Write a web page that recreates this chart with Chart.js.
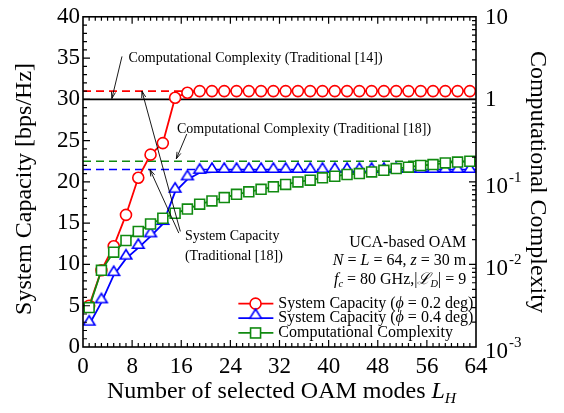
<!DOCTYPE html>
<html>
<head>
<meta charset="utf-8">
<script src="https://cdn.jsdelivr.net/npm/chart.js@4.4.0/dist/chart.umd.min.js"></script>
<style>
body { margin: 0; background: #fff; }
canvas { display: block; }
</style>
</head>
<body>
<canvas id="chart" width="564" height="413"></canvas>
<script>
// number of selected OAM modes L_H
const modes = [1, 3, 5, 7, 9, 11, 13, 15, 17, 19, 21, 23, 25, 27, 29, 31,
               33, 35, 37, 39, 41, 43, 45, 47, 49, 51, 53, 55, 57, 59, 61, 63];
// system capacity [bps/Hz], phi = 0.2 deg
const capacity02 = [5.0, 9.3, 12.2, 16.0, 20.5, 23.3, 24.7, 30.2, 30.8, 31.0, 31.0, 31.0, 31.0, 31.0, 31.0, 31.0,
                    31.0, 31.0, 31.0, 31.0, 31.0, 31.0, 31.0, 31.0, 31.0, 31.0, 31.0, 31.0, 31.0, 31.0, 31.0, 31.0];
// system capacity [bps/Hz], phi = 0.4 deg
const capacity04 = [2.7, 5.4, 8.7, 10.7, 12.0, 13.4, 14.9, 18.8, 20.3, 21.1, 21.2, 21.2, 21.2, 21.2, 21.2, 21.2,
                    21.2, 21.2, 21.2, 21.2, 21.2, 21.2, 21.2, 21.2, 21.2, 21.2, 21.2, 21.2, 21.2, 21.2, 21.2, 21.2];
// computational complexity (right, log axis)
const complexity = [0.0030, 0.0085, 0.0141, 0.0195, 0.0251, 0.0309, 0.0363, 0.0417, 0.0468, 0.0537, 0.0589, 0.0646, 0.0708, 0.0759, 0.0813, 0.0871,
                    0.0933, 0.100, 0.105, 0.112, 0.117, 0.123, 0.126, 0.132, 0.138, 0.145, 0.151, 0.158, 0.162, 0.170, 0.174, 0.178];

// traditional schemes (horizontal reference lines)
const refModes = [0, 64];
const trad14Complexity = [1, 1];
const trad18Complexity = [0.178, 0.178];
const trad18Capacity02 = [31.0, 31.0];
const trad18Capacity04 = [21.5, 21.5];

// tick labels of the right axis (powers of ten)
const rightExponents = [-3, -2, -1, 0, 1];

const FONT = "'Liberation Serif', 'Times New Roman', serif";
const RED = '#ff0000', BLUE = '#0000ff', GREEN = '#108a10';

// triangle marker sitting on its point (base on the line)
function makeTriangle() {
    let c = document.createElement('canvas');
    c.width = 24;
    c.height = 24;
    let t = c.getContext('2d');
    t.strokeStyle = BLUE;
    t.fillStyle = '#fff';
    t.lineWidth = 1.6;
    t.beginPath();
    t.moveTo(12, 3);
    t.lineTo(17.8, 12.3);
    t.lineTo(6.2, 12.3);
    t.closePath();
    t.fill();
    t.stroke();
    return c;
}
const triangle = makeTriangle();

function points(xs, ys) {
    return xs.map((x, i) => ({x: x, y: ys[i]}));
}

function fontOf(size, italic) {
    return (italic ? 'italic ' : '') + size + 'px ' + FONT;
}

// draw text made of several runs (italic / subscript parts)
function drawRuns(ctx, runs, x, y, size, align) {
    let w = 0;
    runs.forEach(r => {
        ctx.font = fontOf(r.sub ? size * 0.65 : size, r.it);
        w += ctx.measureText(r.t).width;
    });
    let cx = align === 'right' ? x - w : align === 'center' ? x - w / 2 : x;
    ctx.textAlign = 'left';
    ctx.textBaseline = 'middle';
    runs.forEach(r => {
        ctx.font = fontOf(r.sub ? size * 0.65 : size, r.it);
        ctx.fillText(r.t, cx, r.sub ? y + size * 0.3 : y);
        cx += ctx.measureText(r.t).width;
    });
}

function arrow(ctx, x1, y1, x2, y2) {
    ctx.beginPath();
    ctx.moveTo(x1, y1);
    ctx.lineTo(x2, y2);
    ctx.stroke();
    let a = Math.atan2(y2 - y1, x2 - x1), L = 7;
    ctx.beginPath();
    ctx.moveTo(x2 - L * Math.cos(a - 0.3), y2 - L * Math.sin(a - 0.3));
    ctx.lineTo(x2, y2);
    ctx.lineTo(x2 - L * Math.cos(a + 0.3), y2 - L * Math.sin(a + 0.3));
    ctx.stroke();
}

// frame, inward ticks, right tick labels, titles, notes and legend
const decorPlugin = {
    id: 'decor',
    afterDraw(chart) {
        const ctx = chart.ctx;
        const xs = chart.scales.x, ys = chart.scales.y, ys1 = chart.scales.y1;
        const area = chart.chartArea;
        const X = v => xs.getPixelForValue(v);
        const Y = v => ys.getPixelForValue(v);
        ctx.save();
        ctx.strokeStyle = '#000';
        ctx.fillStyle = '#000';

        // ticks
        ctx.lineWidth = 1.2;
        ctx.beginPath();
        for (let v = 1; v < 64; v++) {
            let len = v % 8 === 0 ? 7 : 4;
            ctx.moveTo(X(v), area.bottom);
            ctx.lineTo(X(v), area.bottom - len);
            ctx.moveTo(X(v), area.top);
            ctx.lineTo(X(v), area.top + len);
        }
        for (let v = 1; v < 40; v++) {
            let len = v % 5 === 0 ? 7 : 4;
            ctx.moveTo(area.left, Y(v));
            ctx.lineTo(area.left + len, Y(v));
        }
        for (let e = -3; e <= 0; e++) {
            for (let m = 1; m <= 9; m++) {
                if (e === -3 && m === 1) continue;
                let py = ys1.getPixelForValue(m * Math.pow(10, e));
                ctx.moveTo(area.right, py);
                ctx.lineTo(area.right - (m === 1 ? 7 : 4), py);
            }
        }
        ctx.stroke();

        // frame
        ctx.lineWidth = 1.6;
        ctx.strokeRect(area.left, area.top, area.right - area.left, area.bottom - area.top);

        // right axis labels 10^n
        rightExponents.forEach(e => {
            let py = ys1.getPixelForValue(Math.pow(10, e));
            let lx = area.right + 9;
            ctx.textAlign = 'left';
            ctx.textBaseline = 'middle';
            if (e === 1 || e === 0) {
                ctx.font = fontOf(23, false);
                ctx.fillText(e === 1 ? '10' : '1', lx, py + 1);
            } else {
                ctx.font = fontOf(23, false);
                ctx.fillText('10', lx, py + 5);
                let w = ctx.measureText('10').width;
                ctx.font = fontOf(15, false);
                ctx.fillText('-' + (-e), lx + w + 1, py - 4);
            }
        });

        // axis titles
        drawRuns(ctx, [{t: 'Number of selected OAM modes '}, {t: 'L', it: true}, {t: 'H', it: true, sub: true}],
            (area.left + area.right) / 2 + 2, 392, 24, 'center');
        ctx.save();
        ctx.translate(25, (area.top + area.bottom) / 2 + 7);
        ctx.rotate(-Math.PI / 2);
        drawRuns(ctx, [{t: 'System Capacity [bps/Hz]'}], 0, 0, 24, 'center');
        ctx.restore();
        ctx.save();
        ctx.translate(537, (area.top + area.bottom) / 2);
        ctx.rotate(Math.PI / 2);
        drawRuns(ctx, [{t: 'Computational Complexity'}], 0, 0, 24, 'center');
        ctx.restore();

        // notes with arrows (positions in data units)
        ctx.lineWidth = 0.9;
        drawRuns(ctx, [{t: 'Computational Complexity (Traditional [14])'}], X(7.4), Y(35.0), 14, 'left');
        arrow(ctx, X(6.35), Y(35.2), X(4.7), Y(30.1));
        drawRuns(ctx, [{t: 'Computational Complexity (Traditional [18])'}], X(15.3), Y(26.4), 14, 'left');
        arrow(ctx, X(16.9), Y(25.8), X(15.2), Y(22.8));
        drawRuns(ctx, [{t: 'System Capacity'}], X(16.6), Y(13.4), 14, 'left');
        drawRuns(ctx, [{t: '(Traditional [18])'}], X(16.6), Y(11.0), 14, 'left');
        arrow(ctx, X(15.85), Y(14.0), X(9.6), Y(31.0));
        arrow(ctx, X(15.6), Y(13.8), X(10.9), Y(21.5));

        // parameters
        drawRuns(ctx, [{t: 'UCA-based OAM'}], X(62.4), Y(12.6), 16, 'right');
        drawRuns(ctx, [{t: 'N', it: true}, {t: ' = '}, {t: 'L', it: true}, {t: ' = 64, '}, {t: 'z', it: true}, {t: ' = 30 m'}],
            X(62.4), Y(10.4), 16, 'right');
        drawRuns(ctx, [{t: 'f', it: true}, {t: 'c', it: true, sub: true}, {t: ' = 80 GHz,|'}, {t: '\u2112', it: true},
            {t: 'D', it: true, sub: true}, {t: '| = 9'}], X(62.4), Y(8.2), 16, 'right');

        // legend
        const legend = [
            {color: RED, mark: 'circle', runs: [{t: 'System Capacity ('}, {t: '\u03d5', it: true}, {t: ' = 0.2 deg)'}], y: 5.25},
            {color: BLUE, mark: 'triangle', runs: [{t: 'System Capacity ('}, {t: '\u03d5', it: true}, {t: ' = 0.4 deg)'}], y: 3.5},
            {color: GREEN, mark: 'rect', runs: [{t: 'Computational Complexity'}], y: 1.7}
        ];
        legend.forEach(item => {
            let py = Y(item.y);
            ctx.strokeStyle = item.color;
            ctx.lineWidth = 1.8;
            ctx.beginPath();
            ctx.moveTo(X(25.3), py);
            ctx.lineTo(X(31.0), py);
            ctx.stroke();
            let mx = X(28.1);
            ctx.fillStyle = '#fff';
            ctx.lineWidth = 1.6;
            if (item.mark === 'circle') {
                ctx.beginPath();
                ctx.arc(mx, py, 5.5, 0, Math.PI * 2);
                ctx.fill();
                ctx.stroke();
            } else if (item.mark === 'rect') {
                ctx.fillRect(mx - 5, py - 5, 10, 10);
                ctx.strokeRect(mx - 5, py - 5, 10, 10);
            } else {
                ctx.drawImage(triangle, mx - 12, py - 12);
            }
            ctx.fillStyle = '#000';
            drawRuns(ctx, item.runs, X(31.8), py, 16, 'left');
        });
        ctx.restore();
    }
};

function refLine(ys, color, dash, axis) {
    return {
        data: points(refModes, ys),
        borderColor: color,
        borderWidth: 1.6,
        borderDash: dash,
        pointRadius: 0,
        yAxisID: axis,
        order: 5
    };
}

function createChart() {
    let ctx = document.getElementById('chart').getContext('2d');
    new Chart(ctx, {
        type: 'line',
        data: {
            datasets: [
                {
                    label: 'System Capacity (phi = 0.2 deg)',
                    data: points(modes, capacity02),
                    borderColor: RED,
                    backgroundColor: '#fff',
                    borderWidth: 1.8,
                    pointStyle: 'circle',
                    pointRadius: 5.5,
                    pointBorderWidth: 1.6,
                    yAxisID: 'y',
                    order: 2
                },
                {
                    label: 'System Capacity (phi = 0.4 deg)',
                    data: points(modes, capacity04),
                    borderColor: BLUE,
                    backgroundColor: '#fff',
                    borderWidth: 1.8,
                    pointStyle: triangle,
                    pointRadius: 6,
                    yAxisID: 'y',
                    order: 3
                },
                {
                    label: 'Computational Complexity',
                    data: points(modes, complexity),
                    borderColor: GREEN,
                    backgroundColor: '#fff',
                    borderWidth: 1.8,
                    pointStyle: 'rect',
                    pointRadius: 7,
                    pointBorderWidth: 1.6,
                    yAxisID: 'y1',
                    order: 1
                },
                refLine(trad14Complexity, '#000', [], 'y1'),
                refLine(trad18Capacity02, RED, [8, 5], 'y'),
                refLine(trad18Capacity04, BLUE, [8, 5], 'y'),
                refLine(trad18Complexity, GREEN, [8, 5], 'y1')
            ]
        },
        options: {
            responsive: false,
            animation: false,
            layout: {padding: {top: 13, left: 0, right: 0, bottom: 0}},
            plugins: {legend: {display: false}, tooltip: {enabled: false}},
            scales: {
                x: {
                    type: 'linear',
                    min: 0,
                    max: 64,
                    ticks: {stepSize: 8, color: '#000', padding: 6, font: {family: FONT, size: 23}, maxRotation: 0},
                    grid: {display: false, drawTicks: false},
                    border: {display: false},
                    afterFit(scale) { scale.height = 66; }
                },
                y: {
                    min: 0,
                    max: 40,
                    ticks: {stepSize: 5, color: '#000', padding: 3, font: {family: FONT, size: 23}},
                    grid: {display: false, drawTicks: false},
                    border: {display: false},
                    afterFit(scale) { scale.width = 83; }
                },
                y1: {
                    type: 'logarithmic',
                    position: 'right',
                    min: 0.001,
                    max: 10,
                    ticks: {display: false},
                    grid: {display: false, drawTicks: false},
                    border: {display: false},
                    afterFit(scale) { scale.width = 88; }
                }
            }
        },
        plugins: [decorPlugin]
    });
}

createChart();
</script>
</body>
</html>
